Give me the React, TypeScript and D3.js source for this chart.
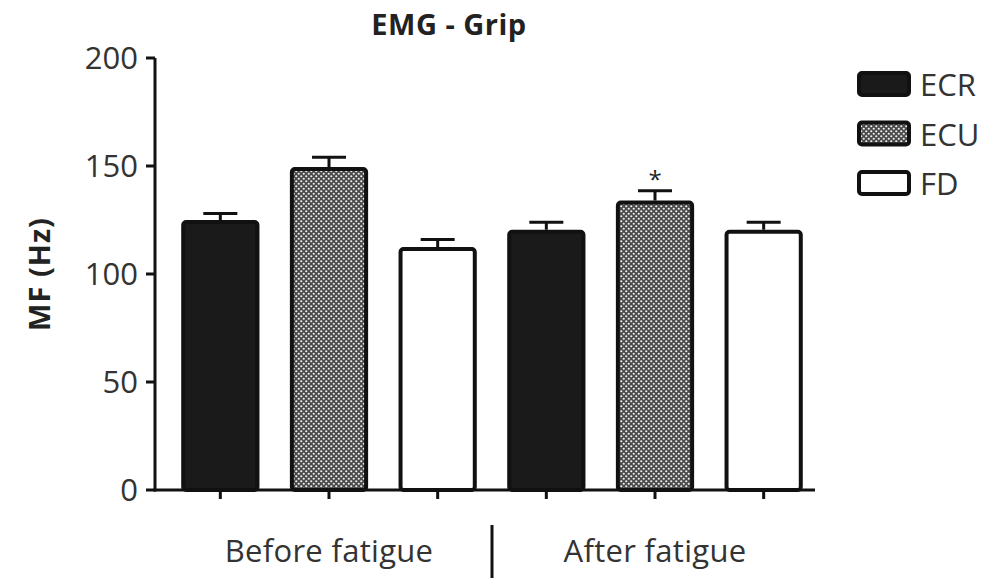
import React from "react";
import * as d3 from "d3";

const categories = ["Before-ECR", "Before-ECU", "Before-FD", "After-ECR", "After-ECU", "After-FD"];
const series = ["ECR", "ECU", "FD", "ECR", "ECU", "FD"];
const values = [125, 149.5, 112.5, 120.5, 134, 120.5];
const errors = [3, 4.5, 3.5, 3.5, 4.5, 3.5];
const significant = [false, false, false, false, true, false];
const legendItems = ["ECR", "ECU", "FD"];
const yTicks = [0, 50, 100, 150, 200];
const groupLabels = ["Before fatigue", "After fatigue"];

const W = 989, H = 580;
const FONT = "'Open Sans', 'Noto Sans', sans-serif";

export default function App() {
  const y = d3.scaleLinear().domain([0, 200]).range([490, 58]);
  const x = d3.scaleBand<string>().domain(categories).range([166, 818]).paddingInner(0.28).paddingOuter(0.14);
  const bw = x.bandwidth();
  const fillFor = (s: string) => (s === "ECR" ? "#1a1a1a" : s === "ECU" ? "url(#stip)" : "#ffffff");
  const groupCenters = [
    ((x(categories[0])! + x(categories[2])! + bw) / 2),
    ((x(categories[3])! + x(categories[5])! + bw) / 2),
  ];
  const dividerX = (x(categories[2])! + bw + x(categories[3])!) / 2;

  return (
    <svg width={W} height={H} style={{ position: "absolute", left: 0, top: 0, background: "#fff" }} fontFamily={FONT}>
      <defs>
        <pattern id="stip" width="5" height="5" patternUnits="userSpaceOnUse">
          <rect width="5" height="5" fill="#4a4a4a" />
          <circle cx="1.25" cy="1.25" r="1.1" fill="#eeeeee" />
          <circle cx="3.75" cy="3.75" r="1.1" fill="#eeeeee" />
        </pattern>
      </defs>
      <rect width={W} height={H} fill="#fff" />
      <text x={449} y={35} textAnchor="middle" fontSize={29} fontWeight={700} fill="#222" letterSpacing={0.5}>EMG - Grip</text>

      {/* y axis */}
      <line x1={155} x2={155} y1={y(200)} y2={y(0) + 1.5} stroke="#111" strokeWidth={3} />
      {yTicks.map((t) => (
        <g key={t}>
          <line x1={146} x2={155} y1={y(t)} y2={y(t)} stroke="#111" strokeWidth={3} />
          <text x={138} y={y(t)} dy="0.36em" textAnchor="end" fontSize={31} fill="#333">{t}</text>
        </g>
      ))}
      <text transform={`translate(50,${(y(0) + y(200)) / 2}) rotate(-90)`} textAnchor="middle" fontSize={29} fontWeight={700} fill="#222" letterSpacing={1}>MF (Hz)</text>

      {/* bars */}
      {categories.map((c, i) => {
        const x0 = x(c)!;
        const cx = x0 + bw / 2;
        const top = y(values[i]);
        const et = y(values[i] + errors[i]);
        return (
          <g key={c}>
            <line x1={cx} x2={cx} y1={top} y2={et} stroke="#111" strokeWidth={3} />
            <line x1={cx - 17} x2={cx + 17} y1={et} y2={et} stroke="#111" strokeWidth={3} />
            <rect x={x0 + 2} y={top + 2} width={bw - 4} height={y(0) - top - 2} rx={3} fill={fillFor(series[i])} stroke="#111" strokeWidth={4} />
            {significant[i] && (
              <text x={cx} y={et - 3} textAnchor="middle" fontSize={24} fill="#222">*</text>
            )}
          </g>
        );
      })}

      {/* x axis */}
      <line x1={153.5} x2={815} y1={y(0)} y2={y(0)} stroke="#111" strokeWidth={3} />
      {categories.map((c) => (
        <line key={c} x1={x(c)! + bw / 2} x2={x(c)! + bw / 2} y1={y(0)} y2={y(0) + 9} stroke="#111" strokeWidth={3} />
      ))}
      {groupLabels.map((g, i) => (
        <text key={g} x={groupCenters[i]} y={562} textAnchor="middle" fontSize={31} fill="#333" letterSpacing={0.3}>{g}</text>
      ))}
      <line x1={dividerX} x2={dividerX} y1={525} y2={578} stroke="#111" strokeWidth={3} />

      {/* legend */}
      {legendItems.map((s, i) => {
        const cy = 84 + i * 49.5;
        return (
          <g key={s}>
            <rect x={859} y={cy - 11} width={50} height={22} rx={3} fill={fillFor(s)} stroke="#111" strokeWidth={4} />
            <text x={920} y={cy + 1} dy="0.36em" fontSize={31} fill="#333">{s}</text>
          </g>
        );
      })}
    </svg>
  );
}
